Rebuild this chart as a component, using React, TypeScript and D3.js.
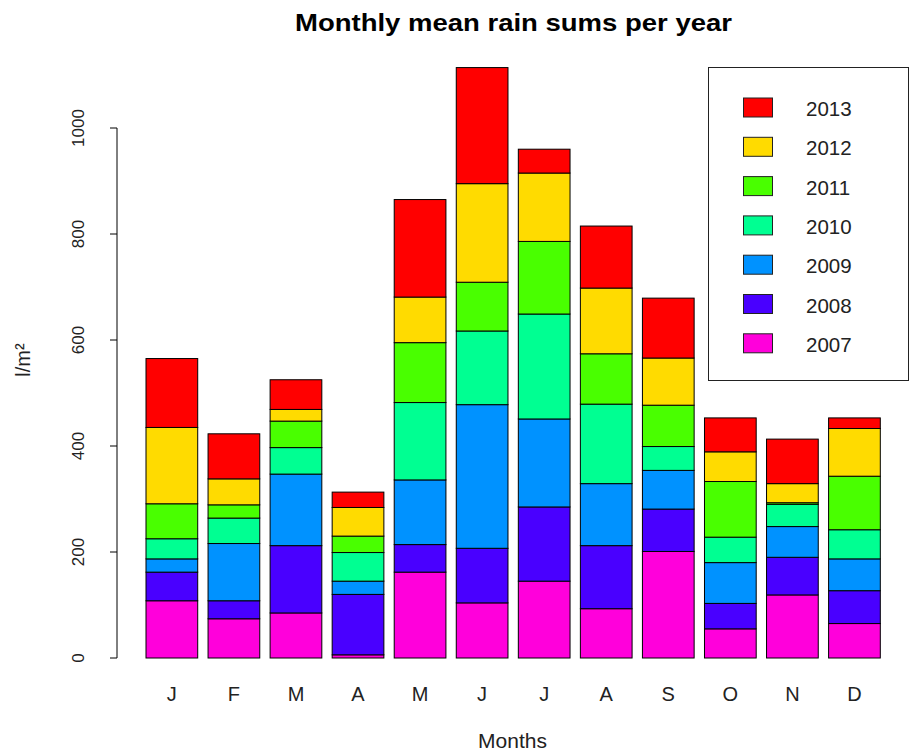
import React from "react";
import * as d3 from "d3";

const months = ["J", "F", "M", "A", "M", "J", "J", "A", "S", "O", "N", "D"];
const years = ["2007", "2008", "2009", "2010", "2011", "2012", "2013"];
const colors = ["#FF00DB", "#4900FF", "#0092FF", "#00FF92", "#49FF00", "#FFDB00", "#FF0000"];

const y2007 = [108, 74, 85, 6, 162, 104, 145, 93, 201, 55, 119, 65];
const y2008 = [54, 34, 127, 114, 52, 103, 140, 119, 80, 48, 71, 62];
const y2009 = [25, 108, 135, 25, 122, 271, 166, 117, 73, 77, 58, 60];
const y2010 = [38, 48, 50, 54, 146, 139, 198, 150, 45, 48, 42, 55];
const y2011 = [66, 25, 50, 31, 113, 92, 137, 95, 78, 105, 3, 101];
const y2012 = [144, 49, 22, 54, 86, 186, 129, 124, 89, 56, 36, 90];
const y2013 = [130, 85, 56, 29, 184, 219, 45, 117, 113, 64, 84, 20];

const yTicks = [0, 200, 400, 600, 800, 1000];

const series = [y2007, y2008, y2009, y2010, y2011, y2012, y2013];

export default function App() {
  const font = "'Liberation Sans', Arial, Helvetica, sans-serif";
  const idx = months.map((_, i) => i);
  const rows = idx.map((i) => {
    const r: any = { i };
    years.forEach((y, k) => (r[y] = series[k][i]));
    return r;
  });
  const stack = d3.stack<any>().keys(years)(rows);

  const x = d3
    .scaleBand<number>()
    .domain(idx)
    .range([146, 880.3])
    .paddingInner(0.2 / 1.2)
    .paddingOuter(0);
  const y = d3.scaleLinear().domain([0, 1000]).range([658, 128]);

  const legendYears = [...years].reverse();
  const legendColors = [...colors].reverse();

  return (
    <svg
      width={912}
      height={754}
      style={{ position: "absolute", left: 0, top: 0, background: "#fff" }}
      fontFamily={font}
    >
      <rect x={0} y={0} width={912} height={754} fill="#fff" />
      <text
        x={295}
        y={30.5}
        fontWeight="bold"
        fontSize={24.5}
        fill="#000"
        textLength={437}
        lengthAdjust="spacingAndGlyphs"
      >
        Monthly mean rain sums per year
      </text>

      {stack.map((layer, k) =>
        layer.map((d, i) => (
          <rect
            key={`${k}-${i}`}
            x={x(i)}
            y={y(d[1])}
            width={x.bandwidth()}
            height={y(d[0]) - y(d[1])}
            fill={colors[k]}
            stroke="#000"
            strokeWidth={1}
          />
        ))
      )}

      {/* y axis */}
      <line x1={117} x2={117} y1={y(0)} y2={y(1000)} stroke="#000" />
      {yTicks.map((t) => (
        <g key={t}>
          <line x1={110} x2={117} y1={y(t)} y2={y(t)} stroke="#000" />
          <text
            transform={`translate(83.5,${y(t)}) rotate(-90)`}
            textAnchor="middle"
            fontSize={17}
            fill="#222"
          >
            {t}
          </text>
        </g>
      ))}
      <text transform={`translate(30,360) rotate(-90)`} textAnchor="middle" fontSize={20} fill="#222">
        l/m²
      </text>

      {/* x labels */}
      {idx.map((i) => (
        <text key={i} x={(x(i) as number) + x.bandwidth() / 2} y={701} textAnchor="middle" fontSize={20} fill="#222">
          {months[i]}
        </text>
      ))}
      <text x={512.5} y={747.5} textAnchor="middle" fontSize={21} fill="#222">
        Months
      </text>

      {/* legend */}
      <rect x={708.5} y={67.5} width={200} height={313} fill="#fff" stroke="#222" />
      {legendYears.map((yr, j) => {
        const cy = 107.5 + j * 39.3;
        return (
          <g key={yr}>
            <rect x={743.5} y={cy - 9.5} width={29} height={19} fill={legendColors[j]} stroke="#222" />
            <text x={806} y={cy + 8.5} fontSize={20.5} fill="#222">
              {yr}
            </text>
          </g>
        );
      })}
    </svg>
  );
}
